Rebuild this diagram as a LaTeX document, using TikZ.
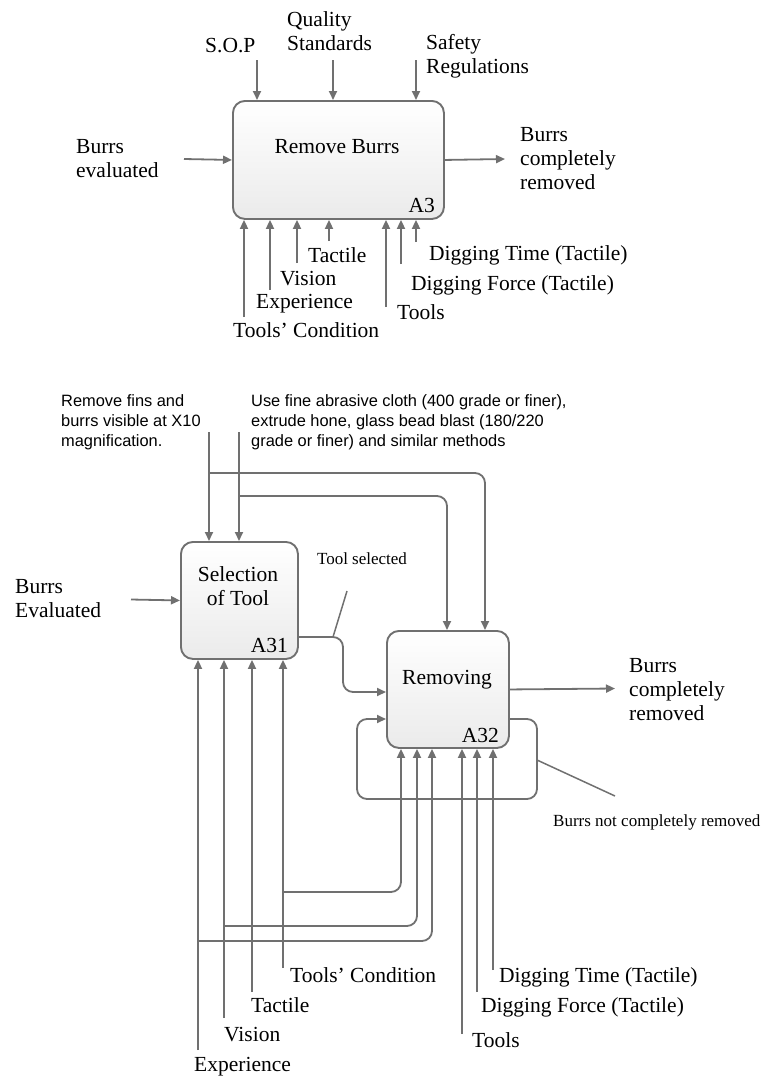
\documentclass[tikz,border=0pt]{standalone}
\usepackage{fontspec}
\setmainfont{Liberation Serif}
\newfontfamily\notefont{Liberation Sans}
\usetikzlibrary{arrows.meta}
\definecolor{lc}{RGB}{112,112,112}
\begin{document}
\begin{tikzpicture}[x=1pt,y=-1pt,
  lbl/.style={font=\fontsize{21.5}{24}\selectfont, inner sep=0pt, align=left, anchor=base west},
  small/.style={font=\fontsize{17}{20}\selectfont, inner sep=0pt, anchor=base west},
  note/.style={font=\notefont\fontsize{16.4}{20}\selectfont, inner sep=0pt, align=left, anchor=base west},
  box/.style={draw=lc, line width=1.9pt, rounded corners=12pt, top color=white, bottom color=black!8, anchor=north west, inner sep=0pt},
  arr/.style={draw=lc, line width=1.8pt, -{Triangle[length=9pt,width=8pt]}},
  ln/.style={draw=lc, line width=1.5pt},
  cn/.style={rounded corners=10pt}]
\useasboundingbox (0,0) rectangle (770,1077);

% ---------- top diagram ----------
\node[box, minimum width=211pt, minimum height=118pt] (a3) at (232,100) {};
\node[lbl, anchor=base] (a3t) at (337,153) {Remove Burrs};
\node[lbl, anchor=base east] (a3n) at (435,212) {A3};

\coordinate (c-sop) at (257,60);
\coordinate (c-qs) at (333,60);
\coordinate (c-sr) at (416,60);
\draw[arr] (c-sop) -- (c-sop |- a3.north);
\draw[arr] (c-qs) -- (c-qs |- a3.north);
\draw[arr] (c-sr) -- (c-sr |- a3.north);
\node[lbl] (t-sop) at (205,52) {S.O.P};
\node[lbl] (t-qs) at (287,50) {Quality\\Standards};
\node[lbl] (t-sr) at (426,73) {Safety\\Regulations};

\coordinate (c-be) at (184,159);
\draw[arr] (c-be) -- (a3.west);
\node[lbl] (t-be) at (76,177) {Burrs\\evaluated};
\coordinate (c-bc) at (505,159);
\draw[arr] (a3.east) -- (c-bc);
\node[lbl] (t-bc) at (520,189) {Burrs\\completely\\removed};

\coordinate (m1) at (244,317);
\coordinate (m2) at (270,290);
\coordinate (m3) at (297,263);
\coordinate (m4) at (329,241);
\coordinate (m5) at (386,307);
\coordinate (m6) at (401,264);
\coordinate (m7) at (416,242);
\foreach \m in {m1,m2,m3,m4,m5,m6,m7}{\draw[arr] (\m) -- (\m |- a3.south);}
\node[lbl] (t-tac) at (308,262) {Tactile};
\node[lbl] (t-vis) at (280,285) {Vision};
\node[lbl] (t-exp) at (256,308) {Experience};
\node[lbl] (t-tc) at (233,337) {Tools’ Condition};
\node[lbl] (t-dt) at (429,260) {Digging Time (Tactile)};
\node[lbl] (t-df) at (411,290) {Digging Force (Tactile)};
\node[lbl] (t-to) at (397,319) {Tools};

% ---------- bottom diagram ----------
\node[box, minimum width=117pt, minimum height=117pt] (a31) at (180,541) {};
\node[lbl, align=center, anchor=base] (a31t) at (238,605) {Selection\\of Tool};
\node[lbl, anchor=base east] (a31n) at (288,652) {A31};
\node[box, minimum width=122pt, minimum height=117pt] (a32) at (386,630) {};
\node[lbl, anchor=base] (a32t) at (447,684) {Removing};
\node[lbl, anchor=base east] (a32n) at (499,742) {A32};

\node[note] (n1) at (61,446) {Remove fins and\\burrs visible at X10\\magnification.};
\node[note] (n2) at (251,446) {Use fine abrasive cloth (400 grade or finer),\\extrude hone, glass bead blast (180/220\\grade or finer) and similar methods};

\coordinate (c1) at (209,432);
\coordinate (c2) at (239,432);
\draw[arr] (c1) -- (c1 |- a31.north);
\draw[arr] (c2) -- (c2 |- a31.north);
\coordinate (b1) at (209,473);
\coordinate (b1r) at (485,473);
\draw[arr, cn] (b1) -- (b1r) -- (b1r |- a32.north);
\coordinate (b2) at (239,496);
\coordinate (b2r) at (447,496);
\draw[arr, cn] (b2) -- (b2r) -- (b2r |- a32.north);

\coordinate (c-be2) at (131,599.5);
\draw[arr] (c-be2) -- (a31.west);
\node[lbl] (t-be2) at (15,617) {Burrs\\Evaluated};

\coordinate (ts0) at (297,637);
\coordinate (ts1) at (343,637);
\coordinate (ts2) at (343,692);
\draw[arr, cn] (ts0) -- (ts1) -- (ts2) -- (ts2 -| a32.west);
\coordinate (tsa) at (333,637);
\coordinate (tsb) at (347,591);
\draw[ln] (tsa) -- (tsb);
\node[small, anchor=base] (t-ts) at (362,564) {Tool selected};

\coordinate (c-bc2) at (615,688.5);
\draw[arr] (a32.east) -- (c-bc2);
\node[lbl] (t-bc2) at (629,720) {Burrs\\completely\\removed};

\coordinate (ly) at (0,719);
\coordinate (lr) at (537,719);
\coordinate (lbr) at (537,799);
\coordinate (lbl) at (357,799);
\coordinate (ll) at (357,719);
\draw[arr, cn] (a32.east |- ly) -- (lr) -- (lbr) -- (lbl) -- (ll) -- (a32.west |- ly);
\coordinate (nca) at (537,760);
\coordinate (ncb) at (615,796);
\draw[ln] (nca) -- (ncb);
\node[small] (t-nc) at (553,826) {Burrs not completely removed};

\coordinate (s-exp) at (198,1050);
\coordinate (s-vis) at (224,1018);
\coordinate (s-tac) at (252,992);
\coordinate (s-tc) at (283,968);
\foreach \m in {s-exp,s-vis,s-tac,s-tc}{\draw[arr] (\m) -- (\m |- a31.south);}

\coordinate (tcb) at (283,892);
\coordinate (tcr) at (401,892);
\draw[arr, cn] (tcb) -- (tcr) -- (tcr |- a32.south);
\coordinate (visb) at (224,926);
\coordinate (visr) at (417,926);
\draw[arr, cn] (visb) -- (visr) -- (visr |- a32.south);
\coordinate (expb) at (198,941);
\coordinate (expr) at (432,941);
\draw[arr, cn] (expb) -- (expr) -- (expr |- a32.south);

\coordinate (r-to) at (462,1034);
\coordinate (r-df) at (477,992);
\coordinate (r-dt) at (493,970);
\foreach \m in {r-to,r-df,r-dt}{\draw[arr] (\m) -- (\m |- a32.south);}

\node[lbl] (u-tc) at (290,982) {Tools’ Condition};
\node[lbl] (u-tac) at (251,1012) {Tactile};
\node[lbl] (u-vis) at (224,1041) {Vision};
\node[lbl] (u-exp) at (194,1071) {Experience};
\node[lbl] (u-dt) at (499,982) {Digging Time (Tactile)};
\node[lbl] (u-df) at (481,1012) {Digging Force (Tactile)};
\node[lbl] (u-to) at (472,1047) {Tools};
\end{tikzpicture}
\end{document}
